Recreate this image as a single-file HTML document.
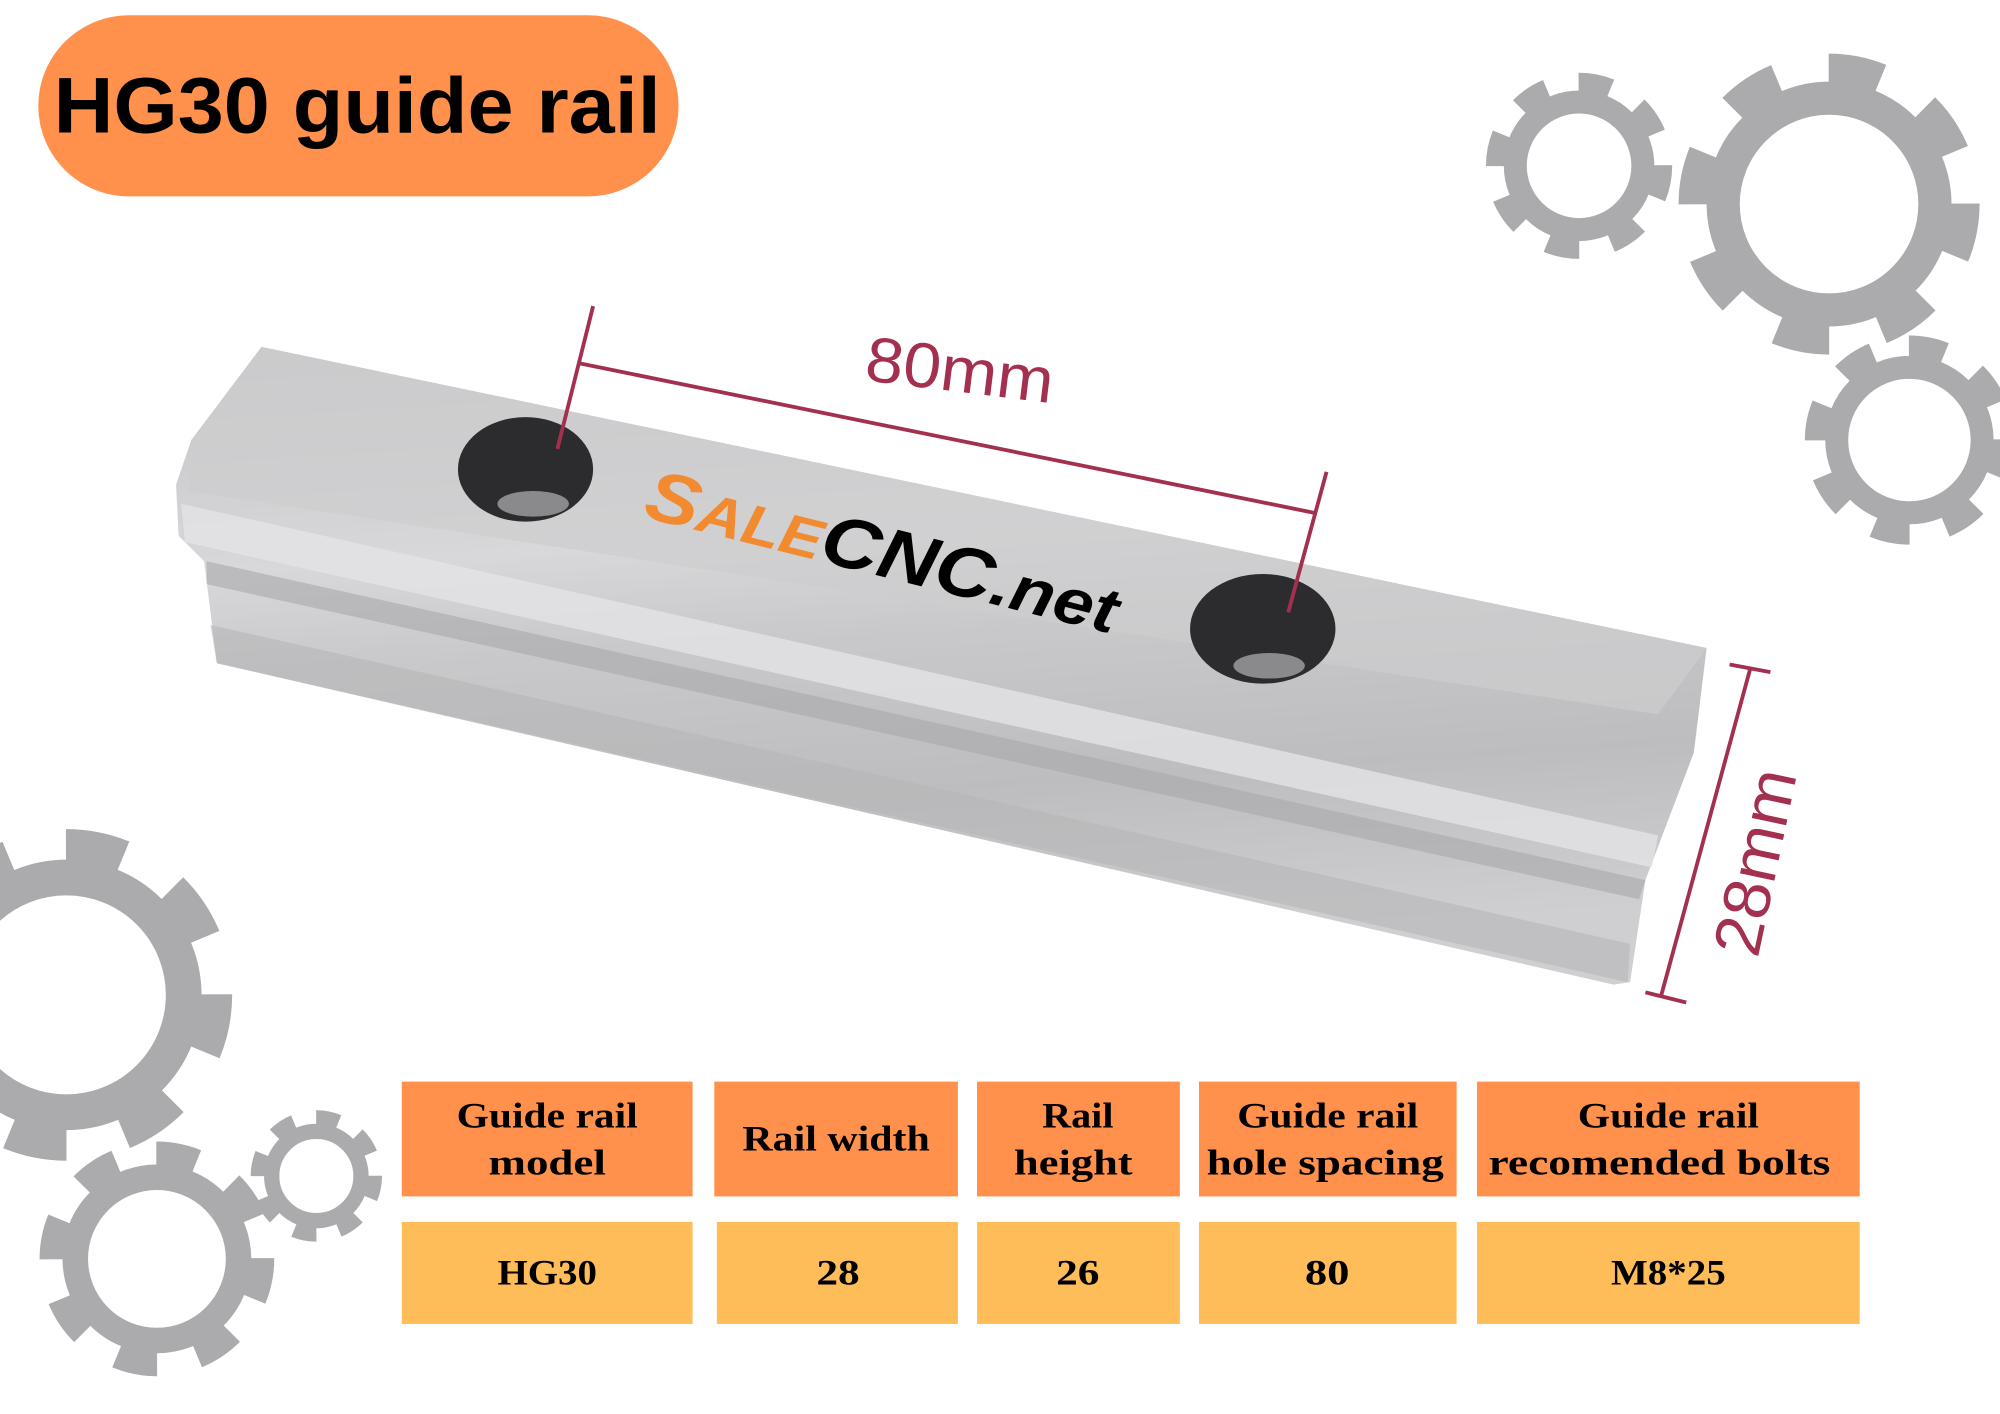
<!DOCTYPE html>
<html><head><meta charset="utf-8"><style>html,body{margin:0;padding:0;background:#fff}svg{display:block}</style></head>
<body>
<svg width="2000" height="1414" viewBox="0 0 1568 1108.6" xmlns="http://www.w3.org/2000/svg">
<defs>
<linearGradient id="rg" x1="0" y1="0" x2="0.15" y2="1">
<stop offset="0" stop-color="#c4c4c6"/><stop offset="0.35" stop-color="#d8d8da"/><stop offset="0.5" stop-color="#c9c9cb"/><stop offset="0.75" stop-color="#bdbdbf"/><stop offset="1" stop-color="#cfcfd1"/>
</linearGradient>
</defs>
<rect width="1568" height="1108.6" fill="#fff"/>
<g fill="none" stroke="#ababad">
 <circle cx="1238" cy="130" r="50" stroke-width="18"/>
 <circle cx="1238" cy="130" r="64" stroke-width="18" pathLength="16" stroke-dasharray="1 1"/>
 <circle cx="1434" cy="160" r="83" stroke-width="26"/>
 <circle cx="1434" cy="160" r="105" stroke-width="26" pathLength="16" stroke-dasharray="1 1"/>
 <circle cx="1497" cy="345" r="57" stroke-width="18"/>
 <circle cx="1497" cy="345" r="72" stroke-width="20" pathLength="16" stroke-dasharray="1 1"/>
 <circle cx="52" cy="780" r="92" stroke-width="28"/>
 <circle cx="52" cy="780" r="116" stroke-width="28" pathLength="16" stroke-dasharray="1 1"/>
 <circle cx="123" cy="987" r="64" stroke-width="20"/>
 <circle cx="123" cy="987" r="81" stroke-width="22" pathLength="16" stroke-dasharray="1 1"/>
 <circle cx="248" cy="922" r="35" stroke-width="12"/>
 <circle cx="248" cy="922" r="45" stroke-width="13" pathLength="16" stroke-dasharray="1 1"/>
</g>
<rect x="30" y="12" width="502" height="142" rx="71" fill="#FF914D"/>
<text x="42" y="104" font-family="Liberation Sans, sans-serif" font-weight="bold" font-size="62" textLength="476" lengthAdjust="spacingAndGlyphs" fill="#000">HG30 guide rail</text>
<polygon points="205,272 1338,508 1328,590 1290,690 1278,770 1265,772 170,520 160,440 140,420 138,380 150,345" fill="url(#rg)"/>
<polygon points="150,345 205,272 1338,508 1300,560 148,385" fill="#cdcdcf" opacity="0.7"/>
<polygon points="142,395 1300,655 1295,680 145,425" fill="#e4e4e6" opacity="0.8"/>
<polygon points="162,440 1290,690 1285,705 162,458" fill="#a9a9ab" opacity="0.6"/>
<polygon points="165,490 1278,740 1276,770 170,520" fill="#b5b5b7" opacity="0.6"/>
<ellipse cx="412" cy="368" rx="53" ry="41" fill="#2c2c2e"/>
<ellipse cx="418" cy="395" rx="28" ry="10" fill="#8a8a8c"/>
<ellipse cx="990" cy="493" rx="57" ry="43" fill="#2c2c2e"/>
<ellipse cx="995" cy="522" rx="28" ry="10" fill="#8a8a8c"/>
<g stroke="#a3304f" stroke-width="3" fill="none">
 <line x1="465" y1="240" x2="437" y2="352"/>
 <line x1="455" y1="285" x2="1030" y2="402"/>
 <line x1="1040" y1="370" x2="1010" y2="480"/>
 <line x1="1372" y1="525" x2="1302" y2="782"/>
 <line x1="1356" y1="521" x2="1388" y2="527"/>
 <line x1="1290" y1="778" x2="1322" y2="786"/>
</g>
<text x="0" y="0" transform="translate(677,298) rotate(7)" font-family="Liberation Sans, sans-serif" font-size="50" textLength="148" lengthAdjust="spacingAndGlyphs" fill="#a3304f">80mm</text>
<text x="0" y="0" transform="translate(1378,752) rotate(-78)" font-family="Liberation Sans, sans-serif" font-size="52" textLength="148" lengthAdjust="spacingAndGlyphs" fill="#a3304f">28mm</text>
<g transform="translate(503,405) rotate(14)" font-family="Liberation Sans, sans-serif" font-weight="bold" font-style="italic">
 <text x="0" y="0" font-size="56" fill="#f28a30" textLength="380" lengthAdjust="spacingAndGlyphs">S<tspan font-size="44">ALE</tspan><tspan fill="#000" font-size="56">CNC<tspan font-size="50">.net</tspan></tspan></text>
</g>
<g fill="#FF914D">
 <rect x="315" y="848" width="228" height="90"/>
 <rect x="560" y="848" width="191" height="90"/>
 <rect x="766" y="848" width="159" height="90"/>
 <rect x="940" y="848" width="202" height="90"/>
 <rect x="1158" y="848" width="300" height="90"/>
</g>
<g fill="#FFBD59">
 <rect x="315" y="958" width="228" height="80"/>
 <rect x="562" y="958" width="189" height="80"/>
 <rect x="766" y="958" width="159" height="80"/>
 <rect x="940" y="958" width="202" height="80"/>
 <rect x="1158" y="958" width="300" height="80"/>
</g>
<g font-family="Liberation Serif, serif" font-weight="bold" font-size="28" fill="#000">
 <text x="358" y="884" textLength="142" lengthAdjust="spacingAndGlyphs">Guide rail</text>
 <text x="383" y="921" textLength="92" lengthAdjust="spacingAndGlyphs">model</text>
 <text x="582" y="902" textLength="147" lengthAdjust="spacingAndGlyphs">Rail width</text>
 <text x="817" y="884" textLength="56" lengthAdjust="spacingAndGlyphs">Rail</text>
 <text x="795" y="921" textLength="93" lengthAdjust="spacingAndGlyphs">height</text>
 <text x="970" y="884" textLength="142" lengthAdjust="spacingAndGlyphs">Guide rail</text>
 <text x="946" y="921" textLength="186" lengthAdjust="spacingAndGlyphs">hole spacing</text>
 <text x="1237" y="884" textLength="142" lengthAdjust="spacingAndGlyphs">Guide rail</text>
 <text x="1167" y="921" textLength="268" lengthAdjust="spacingAndGlyphs">recomended bolts</text>
 <text x="390" y="1007" textLength="78" lengthAdjust="spacingAndGlyphs">HG30</text>
 <text x="640" y="1007" textLength="34" lengthAdjust="spacingAndGlyphs">28</text>
 <text x="828" y="1007" textLength="34" lengthAdjust="spacingAndGlyphs">26</text>
 <text x="1023" y="1007" textLength="35" lengthAdjust="spacingAndGlyphs">80</text>
 <text x="1263" y="1007" textLength="90" lengthAdjust="spacingAndGlyphs">M8*25</text>
</g>
</svg>
</body></html>
